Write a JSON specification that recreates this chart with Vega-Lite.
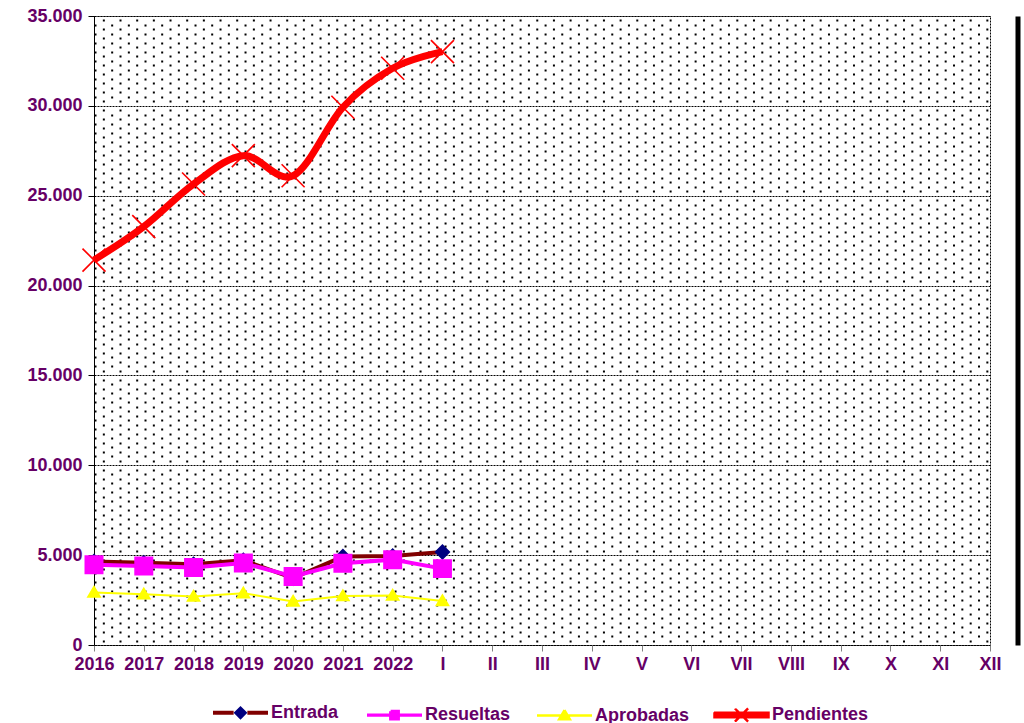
{
  "$schema": "https://vega.github.io/schema/vega-lite/v6.json",
  "width": 896,
  "height": 629,
  "autosize": "none",
  "padding": {"left": 94, "top": 16, "right": 34, "bottom": 78},
  "background": "#ffffff",
  "data": {
    "values": [
      {"p": "2016", "serie": "Entrada", "v": 4650},
      {"p": "2017", "serie": "Entrada", "v": 4580},
      {"p": "2018", "serie": "Entrada", "v": 4500},
      {"p": "2019", "serie": "Entrada", "v": 4720},
      {"p": "2020", "serie": "Entrada", "v": 3720},
      {"p": "2021", "serie": "Entrada", "v": 4920},
      {"p": "2022", "serie": "Entrada", "v": 4950},
      {"p": "I", "serie": "Entrada", "v": 5170},
      {"p": "2016", "serie": "Resueltas", "v": 4460},
      {"p": "2017", "serie": "Resueltas", "v": 4400},
      {"p": "2018", "serie": "Resueltas", "v": 4310},
      {"p": "2019", "serie": "Resueltas", "v": 4560},
      {"p": "2020", "serie": "Resueltas", "v": 3810},
      {"p": "2021", "serie": "Resueltas", "v": 4550},
      {"p": "2022", "serie": "Resueltas", "v": 4750},
      {"p": "I", "serie": "Resueltas", "v": 4250},
      {"p": "2016", "serie": "Aprobadas", "v": 2920},
      {"p": "2017", "serie": "Aprobadas", "v": 2820},
      {"p": "2018", "serie": "Aprobadas", "v": 2700},
      {"p": "2019", "serie": "Aprobadas", "v": 2880},
      {"p": "2020", "serie": "Aprobadas", "v": 2420},
      {"p": "2021", "serie": "Aprobadas", "v": 2720},
      {"p": "2022", "serie": "Aprobadas", "v": 2760},
      {"p": "I", "serie": "Aprobadas", "v": 2450},
      {"p": "2016", "serie": "Pendientes", "v": 21420},
      {"p": "2017", "serie": "Pendientes", "v": 23280},
      {"p": "2018", "serie": "Pendientes", "v": 25650},
      {"p": "2019", "serie": "Pendientes", "v": 27230},
      {"p": "2020", "serie": "Pendientes", "v": 26110},
      {"p": "2021", "serie": "Pendientes", "v": 29920},
      {"p": "2022", "serie": "Pendientes", "v": 32090},
      {"p": "I", "serie": "Pendientes", "v": 33020}
    ]
  },
  "encoding": {
    "x": {
      "field": "p",
      "type": "ordinal",
      "sort": null,
      "scale": {"type": "point", "padding": 0, "domain": ["2016","2017","2018","2019","2020","2021","2022","I","II","III","IV","V","VI","VII","VIII","IX","X","XI","XII"]},
      "axis": {"title": null, "labelAngle": 0, "domain": false, "ticks": true, "tickSize": 6, "tickColor": "#808080", "labelPadding": 4, "grid": false, "labelOverlap": false, "labelFont": "Liberation Sans", "labelFontSize": 18, "labelFontWeight": "bold", "labelColor": "#660066"}
    }
  },
  "layer": [
    {
      "encoding": {
        "y": {
          "field": "v",
          "type": "quantitative",
          "scale": {"domain": [0, 35000], "nice": false, "zero": true},
          "axis": {
            "title": null,
            "values": [0,250,500,750,1000,1250,1500,1750,2000,2250,2500,2750,3000,3250,3500,3750,4000,4250,4500,4750,5000,5250,5500,5750,6000,6250,6500,6750,7000,7250,7500,7750,8000,8250,8500,8750,9000,9250,9500,9750,10000,10250,10500,10750,11000,11250,11500,11750,12000,12250,12500,12750,13000,13250,13500,13750,14000,14250,14500,14750,15000,15250,15500,15750,16000,16250,16500,16750,17000,17250,17500,17750,18000,18250,18500,18750,19000,19250,19500,19750,20000,20250,20500,20750,21000,21250,21500,21750,22000,22250,22500,22750,23000,23250,23500,23750,24000,24250,24500,24750,25000,25250,25500,25750,26000,26250,26500,26750,27000,27250,27500,27750,28000,28250,28500,28750,29000,29250,29500,29750,30000,30250,30500,30750,31000,31250,31500,31750,32000,32250,32500,32750,33000,33250,33500,33750,34000,34250,34500,34750,35000],
            "labelExpr": "datum.value % 5000 === 0 ? replace(format(datum.value, ',d'), ',', '.') : ''",
            "labelOverlap": false,
            "labelPadding": 6,
            "labelFont": "Liberation Sans",
            "labelFontSize": 18,
            "labelFontWeight": "bold",
            "labelColor": "#660066",
            "tickSize": 6,
            "tickColor": "#000000",
            "tickOpacity": {"condition": {"test": "datum.value % 5000 === 0", "value": 1}, "value": 0},
            "domainColor": "#000000",
            "domainWidth": 1,
            "grid": true,
            "gridColor": "#000000",
            "gridOpacity": 1,
            "gridDash": {"condition": {"test": "datum.value % 5000 === 0", "value": [2, 1]}, "value": [2, 14.67]},
            "gridWidth": {"condition": {"test": "datum.value % 5000 === 0", "value": 1}, "value": 2},
            "gridDashOffset": {"condition": {"test": "datum.value % 500 === 0", "value": 0}, "value": 8.33}
          }
        }
      },
      "layer": [
        {
          "transform": [{"filter": "datum.serie === 'Entrada'"}],
          "mark": {"type": "line", "strokeWidth": 4},
          "encoding": {
            "stroke": {
              "field": "serie", "type": "nominal",
              "scale": {"domain": ["Entrada","Resueltas","Aprobadas","Pendientes"], "range": ["#800000","#FF00FF","#FFFF00","#FF0000"]},
              "legend": {
                "orient": "none", "legendX": 117, "legendY": 667, "direction": "horizontal", "columns": 4,
                "title": null, "padding": 0,
                "symbolSize": 3025, "symbolOpacity": 1,
                "labelFont": "Liberation Sans", "labelFontSize": 18, "labelFontWeight": "bold", "labelColor": "#660066",
                "labelOffset": 1, "columnPadding": 21, "labelLimit": 300
              }
            }
          }
        },
        {
          "transform": [{"filter": "datum.serie === 'Entrada'"}],
          "mark": {"type": "point", "filled": true, "size": 4096, "opacity": 1},
          "encoding": {
            "fill": {"field": "serie", "type": "nominal", "scale": {"domain": ["Entrada","Resueltas","Aprobadas","Pendientes"], "range": ["#000080","#FF00FF","#FFFF00","#FF0000"]}},
            "shape": {"field": "serie", "type": "nominal", "scale": {"domain": ["Entrada","Resueltas","Aprobadas","Pendientes"], "range": ["M-1,0L-0.25,0L0,-0.25L0.25,0L0,0.25L-0.25,0L0,-0.25L0.25,0L1,0", "M-1,0H1M-0.14,-0.14H0.14V0.14H-0.14Z", "M-1,0H1M0,-0.2L0.2,0.14L-0.2,0.14Z", "M-1,-0.1H1V0.1H-1ZM-0.208,-0.232L0.232,0.208L0.208,0.232L-0.232,-0.208ZM-0.208,0.232L-0.232,0.208L0.208,-0.232L0.232,-0.208Z"]}},
            "strokeDash": {"field": "serie", "type": "nominal", "scale": {"domain": ["Entrada","Resueltas","Aprobadas","Pendientes"], "range": [[20.625, 58.34, 20.625, 300], [1000, 0], [1000, 0], [1000, 0]]}},
            "strokeWidth": {"field": "serie", "type": "nominal", "scale": {"type": "point", "padding": 0, "domain": ["Entrada","Resueltas","Aprobadas","Pendientes"], "range": [4, 1.5]}}
          }
        },
        {
          "transform": [{"filter": "datum.serie === 'Resueltas'"}],
          "mark": {"type": "line", "strokeWidth": 4},
          "encoding": {
            "stroke": {
              "field": "serie", "type": "nominal",
              "scale": {"domain": ["Entrada","Resueltas","Aprobadas","Pendientes"], "range": ["#800000","#FF00FF","#FFFF00","#FF0000"]},
              "legend": {
                "orient": "none", "legendX": 117, "legendY": 667, "direction": "horizontal", "columns": 4,
                "title": null, "padding": 0,
                "symbolSize": 3025, "symbolOpacity": 1,
                "labelFont": "Liberation Sans", "labelFontSize": 18, "labelFontWeight": "bold", "labelColor": "#660066",
                "labelOffset": 1, "columnPadding": 21, "labelLimit": 300
              }
            }
          }
        },
        {
          "transform": [{"filter": "datum.serie === 'Resueltas'"}],
          "mark": {"type": "point", "filled": true, "size": 18400, "opacity": 1},
          "encoding": {
            "fill": {"field": "serie", "type": "nominal", "scale": {"domain": ["Entrada","Resueltas","Aprobadas","Pendientes"], "range": ["#000080","#FF00FF","#FFFF00","#FF0000"]}},
            "shape": {"field": "serie", "type": "nominal", "scale": {"domain": ["Entrada","Resueltas","Aprobadas","Pendientes"], "range": ["M-1,0L-0.25,0L0,-0.25L0.25,0L0,0.25L-0.25,0L0,-0.25L0.25,0L1,0", "M-1,0H1M-0.14,-0.14H0.14V0.14H-0.14Z", "M-1,0H1M0,-0.2L0.2,0.14L-0.2,0.14Z", "M-1,-0.1H1V0.1H-1ZM-0.208,-0.232L0.232,0.208L0.208,0.232L-0.232,-0.208ZM-0.208,0.232L-0.232,0.208L0.208,-0.232L0.232,-0.208Z"]}},
            "strokeDash": {"field": "serie", "type": "nominal", "scale": {"domain": ["Entrada","Resueltas","Aprobadas","Pendientes"], "range": [[20.625, 58.34, 20.625, 300], [1000, 0], [1000, 0], [1000, 0]]}},
            "strokeWidth": {"field": "serie", "type": "nominal", "scale": {"type": "point", "padding": 0, "domain": ["Entrada","Resueltas","Aprobadas","Pendientes"], "range": [4, 1.5]}}
          }
        },
        {
          "transform": [{"filter": "datum.serie === 'Aprobadas'"}],
          "mark": {"type": "line", "strokeWidth": 2},
          "encoding": {
            "stroke": {
              "field": "serie", "type": "nominal",
              "scale": {"domain": ["Entrada","Resueltas","Aprobadas","Pendientes"], "range": ["#800000","#FF00FF","#FFFF00","#FF0000"]},
              "legend": {
                "orient": "none", "legendX": 117, "legendY": 667, "direction": "horizontal", "columns": 4,
                "title": null, "padding": 0,
                "symbolSize": 3025, "symbolOpacity": 1,
                "labelFont": "Liberation Sans", "labelFontSize": 18, "labelFontWeight": "bold", "labelColor": "#660066",
                "labelOffset": 1, "columnPadding": 21, "labelLimit": 300
              }
            }
          }
        },
        {
          "transform": [{"filter": "datum.serie === 'Aprobadas'"}],
          "mark": {"type": "point", "filled": true, "size": 5625, "opacity": 1},
          "encoding": {
            "fill": {"field": "serie", "type": "nominal", "scale": {"domain": ["Entrada","Resueltas","Aprobadas","Pendientes"], "range": ["#000080","#FF00FF","#FFFF00","#FF0000"]}},
            "shape": {"field": "serie", "type": "nominal", "scale": {"domain": ["Entrada","Resueltas","Aprobadas","Pendientes"], "range": ["M-1,0L-0.25,0L0,-0.25L0.25,0L0,0.25L-0.25,0L0,-0.25L0.25,0L1,0", "M-1,0H1M-0.14,-0.14H0.14V0.14H-0.14Z", "M-1,0H1M0,-0.2L0.2,0.14L-0.2,0.14Z", "M-1,-0.1H1V0.1H-1ZM-0.208,-0.232L0.232,0.208L0.208,0.232L-0.232,-0.208ZM-0.208,0.232L-0.232,0.208L0.208,-0.232L0.232,-0.208Z"]}},
            "strokeDash": {"field": "serie", "type": "nominal", "scale": {"domain": ["Entrada","Resueltas","Aprobadas","Pendientes"], "range": [[20.625, 58.34, 20.625, 300], [1000, 0], [1000, 0], [1000, 0]]}},
            "strokeWidth": {"field": "serie", "type": "nominal", "scale": {"type": "point", "padding": 0, "domain": ["Entrada","Resueltas","Aprobadas","Pendientes"], "range": [4, 1.5]}}
          }
        },
        {
          "transform": [{"filter": "datum.serie === 'Pendientes'"}],
          "mark": {"type": "point", "shape": "M-0.95,-1.05L1.05,0.95L0.95,1.05L-1.05,-0.95ZM-0.95,1.05L-1.05,0.95L0.95,-1.05L1.05,-0.95Z", "size": 529, "filled": true, "color": "#FF0000", "opacity": 1}
        }
      ]
    },
    {
      "transform": [{"filter": "datum.serie === 'Pendientes'"}],
      "mark": {"type": "line", "strokeWidth": 7, "interpolate": "cardinal"},
      "encoding": {
        "y": {
          "field": "v",
          "type": "quantitative",
          "scale": {"domain": [0, 35000], "nice": false, "zero": true},
          "axis": {"orient": "right", "offset": 27.5, "title": null, "labels": false, "ticks": false, "grid": false, "domain": true, "domainColor": "#000000", "domainWidth": 5}
        },
        "stroke": {
          "field": "serie", "type": "nominal",
          "scale": {"domain": ["Entrada","Resueltas","Aprobadas","Pendientes"], "range": ["#800000","#FF00FF","#FFFF00","#FF0000"]},
          "legend": {
            "orient": "none", "legendX": 117, "legendY": 667, "direction": "horizontal", "columns": 4,
            "title": null, "padding": 0,
            "symbolSize": 3025, "symbolOpacity": 1,
            "labelFont": "Liberation Sans", "labelFontSize": 18, "labelFontWeight": "bold", "labelColor": "#660066",
            "labelOffset": 1, "columnPadding": 21, "labelLimit": 300
          }
        }
      }
    }
  ],
  "resolve": {"axis": {"y": "independent"}},
  "config": {
    "font": "Liberation Sans",
    "view": {"stroke": "#000000", "strokeDash": [2, 1], "strokeWidth": 1, "fill": "#ffffff"}
  }
}
